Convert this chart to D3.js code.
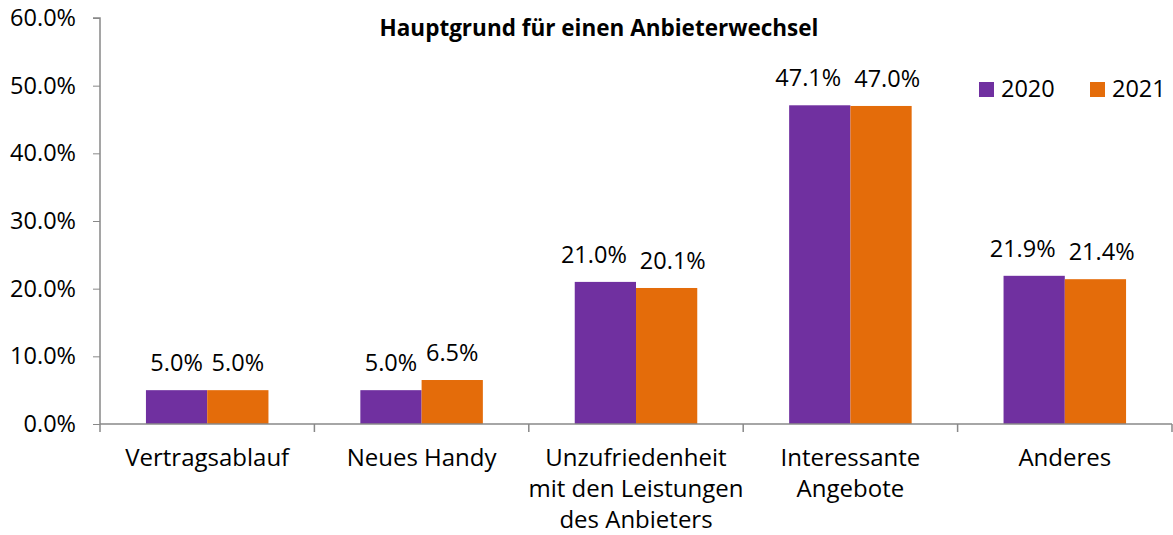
<!DOCTYPE html>
<html>
<head>
<meta charset="utf-8">
<script src="https://cdn.jsdelivr.net/npm/d3@7"></script>
<style>
  body { margin: 0; background: #fff; }
  text { font-family: "Open Sans", Lato, sans-serif; fill: #000; }
</style>
</head>
<body>
<svg id="chart" width="1173" height="535"></svg>
<script>
var categories = [
  ["Vertragsablauf"],
  ["Neues Handy"],
  ["Unzufriedenheit", "mit den Leistungen", "des Anbieters"],
  ["Interessante", "Angebote"],
  ["Anderes"]
];
var seriesNames = ["2020", "2021"];
var values2020 = [5.0, 5.0, 21.0, 47.1, 21.9];
var values2021 = [5.0, 6.5, 20.1, 47.0, 21.4];
var yTicks = [0, 10, 20, 30, 40, 50, 60];
var title = "Hauptgrund für einen Anbieterwechsel";

var colors = {"2020": "#7030a0", "2021": "#e46c0a"};
var axisColor = "#888888";
var numSize = "23.5px";

var svg = d3.select("#chart"),
    margin = {top: 18, right: 1, bottom: 111, left: 100},
    width = +svg.attr("width") - margin.left - margin.right,
    height = +svg.attr("height") - margin.top - margin.bottom;

var data = categories.map(function(c, i) {
  return {key: i, label: c, values: [
    {series: "2020", value: values2020[i]},
    {series: "2021", value: values2021[i]}
  ]};
});

var x0 = d3.scaleBand().domain(d3.range(categories.length)).range([0, width]).padding(0);
var x1 = d3.scaleBand().domain(seriesNames).range([0, x0.bandwidth()]).paddingInner(0).paddingOuter(0.75);
var y = d3.scaleLinear().domain([0, 60]).range([height, 0]);

var g = svg.append("g")
    .attr("transform", "translate(" + margin.left + "," + margin.top + ")");

// title
svg.append("text")
    .attr("x", 599)
    .attr("y", 36)
    .attr("text-anchor", "middle")
    .style("font-size", "22.5px")
    .style("font-weight", "bold")
    .text(title);

// y axis
var yAxis = g.append("g")
    .call(d3.axisLeft(y).tickValues(yTicks).tickSize(7).tickPadding(17)
      .tickFormat(function(d) { return d.toFixed(1) + "%"; }));
yAxis.selectAll("text").style("font-size", numSize).attr("fill", "#000");
yAxis.selectAll("line").attr("stroke", axisColor);
yAxis.select(".domain").attr("stroke", axisColor).attr("stroke-width", 1.5)
    .attr("d", "M-7," + y(60) + "H0V" + y(0));

// bars
var groups = g.selectAll(".grp")
  .data(data)
  .enter().append("g")
    .attr("class", "grp")
    .attr("transform", function(d) { return "translate(" + x0(d.key) + ",0)"; });

groups.selectAll("rect")
  .data(function(d) { return d.values; })
  .enter().append("rect")
    .attr("x", function(d) { return x1(d.series); })
    .attr("y", function(d) { return y(d.value); })
    .attr("width", x1.bandwidth())
    .attr("height", function(d) { return y(0) - y(d.value); })
    .attr("fill", function(d) { return colors[d.series]; });

// value labels
groups.each(function(d) {
  var grp = d3.select(this);
  var labels = grp.selectAll(".val")
    .data(d.values)
    .enter().append("text")
      .attr("class", "val")
      .attr("x", function(v) { return x1(v.series) + x1.bandwidth() / 2; })
      .attr("y", function(v) { return y(v.value) - 19; })
      .attr("text-anchor", "middle")
      .style("font-size", numSize)
      .text(function(v) { return v.value.toFixed(1) + "%"; });
  // push apart labels that would overlap
  var nodes = labels.nodes();
  var w0 = nodes[0].getComputedTextLength(), w1 = nodes[1].getComputedTextLength();
  var gap = x1.bandwidth() - (w0 + w1) / 2;
  if (gap < 6) {
    var shift = (13 - gap) / 2;
    d3.select(nodes[0]).attr("x", +d3.select(nodes[0]).attr("x") - shift * 1.3);
    d3.select(nodes[1]).attr("x", +d3.select(nodes[1]).attr("x") + shift * 0.7);
  }
});

// x axis
var xAxis = g.append("g").attr("transform", "translate(0," + height + ")");
xAxis.append("path")
    .attr("stroke", axisColor)
    .attr("stroke-width", 1.5)
    .attr("fill", "none")
    .attr("d", "M0,0H" + width);
xAxis.selectAll(".tick")
  .data(d3.range(categories.length + 1))
  .enter().append("line")
    .attr("x1", function(i) { return i * x0.step(); })
    .attr("x2", function(i) { return i * x0.step(); })
    .attr("y1", 0)
    .attr("y2", 8)
    .attr("stroke", axisColor)
    .attr("stroke-width", 1.5);

xAxis.selectAll(".cat")
  .data(data)
  .enter().append("text")
    .attr("class", "cat")
    .attr("x", function(d) { return x0(d.key) + x0.bandwidth() / 2; })
    .attr("y", 42)
    .attr("text-anchor", "middle")
    .style("font-size", "24px")
    .each(function(d) {
      var t = d3.select(this);
      d.label.forEach(function(line, i) {
        t.append("tspan")
          .attr("x", x0(d.key) + x0.bandwidth() / 2)
          .attr("dy", i === 0 ? 0 : 31)
          .text(line);
      });
    });

// legend
var legend = svg.append("g").attr("transform", "translate(979,82)");
var li = legend.selectAll(".li")
  .data(seriesNames)
  .enter().append("g")
    .attr("transform", function(d, i) { return "translate(" + (i * 111) + ",0)"; });
li.append("rect")
    .attr("width", 15)
    .attr("height", 15)
    .attr("fill", function(d) { return colors[d]; });
li.append("text")
    .attr("x", 22)
    .attr("y", 15)
    .style("font-size", numSize)
    .text(function(d) { return d; });
</script>
</body>
</html>
